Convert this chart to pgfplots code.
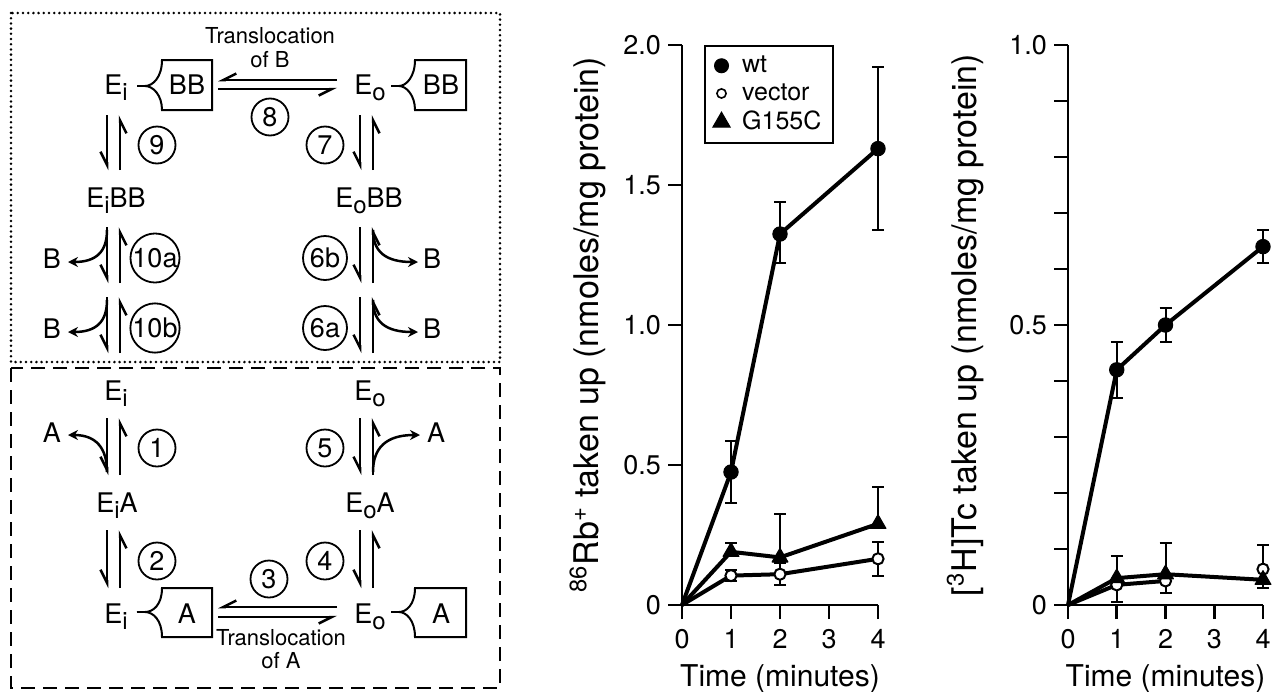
\documentclass[border=0pt]{standalone}
\usepackage{fontspec}
\setmainfont{TeX Gyre Heros}
\usepackage{pgfplots}
\usepackage{pgfplotstable}
\pgfplotsset{compat=1.18}
\usetikzlibrary{arrows.meta}

% 86Rb uptake
\pgfplotstableread{
x  y      ep     em
0  0      0      0
1  0.475  0.11   0.11
2  1.325  0.115  0.105
4  1.63   0.29   0.29
}\rbwt
\pgfplotstableread{
x  y      ep     em
0  0      0      0
1  0.105  0.02   0.02
2  0.11   0.04   0.04
4  0.165  0.06   0.06
}\rbvec
\pgfplotstableread{
x  y      ep     em
0  0      0      0
1  0.19   0.03   0
2  0.17   0.155  0
4  0.29   0.13   0
}\rbmut
% [3H]Tc uptake
\pgfplotstableread{
x  y      ep     em
0  0      0      0
1  0.42   0.05   0.05
2  0.50   0.03   0.03
4  0.64   0.03   0.03
}\tcwt
\pgfplotstableread{
x  y      ep     em
0  0      0      0
1  0.036  0      0.03
2  0.043  0      0.022
4  0.064  0      0.034
}\tcvec
\pgfplotstableread{
x  y      ep     em
0  0      0      0
1  0.048  0.04   0
2  0.055  0.055  0
4  0.045  0.062  0
}\tcmut

\newcommand{\sub}[1]{\raisebox{-3pt}{\fontsize{12}{13}\selectfont #1}}

\tikzset{
  eq/.style={line width=1.25pt, -{Straight Barb[harpoon,swap,length=6.5pt,width=6.5pt]}},
  rel/.style={line width=1.25pt, -{Stealth[length=5pt,width=5pt]}},
  num/.style={circle, draw, line width=0.9pt, minimum size=18.5pt, inner sep=0pt, font=\fontsize{13.5}{15}\selectfont},
  numw/.style={num, minimum size=22pt},
  lbl/.style={anchor=base, inner sep=0pt, font=\fontsize{13.5}{16}\selectfont},
  sm/.style={anchor=base, inner sep=0pt, font=\fontsize{11}{13}\selectfont},
  bx/.style={line width=1pt},
}

\pgfplotsset{
  panel/.style={
    scale only axis, height=280pt, anchor=south west,
    xmin=0, xmax=4, ymin=0,
    axis lines*=left, axis line style={line width=1.3pt, -},
    tick align=outside, major tick length=7pt, minor tick length=7pt,
    tick style={black, line width=1.3pt},
    xtick={0,1,2,3,4},
    ticklabel style={font=\fontsize{13.5}{15}\selectfont},
    xticklabel style={yshift=-1.5pt},
    /pgf/number format/assume math mode=true,
    xlabel={Time (minutes)},
    xlabel style={font=\fontsize{15}{18}\selectfont, at={(axis description cs:0.5,-0.132)}, anchor=center},
    ylabel style={font=\fontsize{17}{20}\selectfont, anchor=center},
    clip=false,
  },
  ebar/.style={only marks, mark=none, forget plot,
    error bars/y explicit,
    error bars/error bar style={black, line width=1pt},
    error bars/error mark options={black, rotate=90, mark size=3pt, line width=1pt}},
  swt/.style={black, line width=2pt, line join=round, mark=*, mark size=3.6pt,
    mark options={solid, fill=black, line width=0.5pt}, forget plot},
  svec/.style={black, line width=2pt, line join=round, mark=*, mark size=2.8pt,
    mark options={solid, fill=white, line width=1pt}, forget plot},
  smut/.style={black, line width=2pt, line join=round, mark=triangle*, mark size=4.6pt,
    mark options={solid, fill=black, line width=0.5pt}, forget plot},
}

\begin{document}
\begin{tikzpicture}
\useasboundingbox (0,0) rectangle (637pt,-345.5pt);

% ---------------- reaction scheme ----------------
\begin{scope}[x=0.5pt,y=-0.5pt]
\draw[line width=1.4pt, line cap=round, dash pattern=on 0pt off 2.6pt] (11,13) rectangle (500,362);
\draw[line width=1pt, dash pattern=on 7pt off 4pt] (11,368) rectangle (500,688);

% top row: Ei-BB <-> Eo-BB
\node[sm] at (270,43) {Translocation};
\node[sm] at (270,67) {of B};
\node[lbl] at (116,94) {E\sub{i}};
\draw[bx] (212,60) -- (162,60) .. controls (162,77) and (153,86) .. (145,86)
  .. controls (153,86) and (162,95) .. (162,110) -- (212,110) -- cycle;
\draw[bx] (137,86) -- (145,86);
\node[lbl] at (187,94) {BB};
\draw[eq] (337,80) -- (218,80);
\draw[eq] (218,89) -- (337,89);
\node[num] at (270,117) {8};
\node[lbl] at (370,94) {E\sub{o}};
\draw[bx] (466,60) -- (415,60) .. controls (415,77) and (406,86) .. (399,86)
  .. controls (406,86) and (415,95) .. (415,110) -- (466,110) -- cycle;
\draw[bx] (391,86) -- (399,86);
\node[lbl] at (441,94) {BB};

% 9 / 7
\draw[eq] (107,115) -- (107,170);
\draw[eq] (120,170) -- (120,115);
\node[num] at (157,145) {9};
\draw[eq] (360,115) -- (360,170);
\draw[eq] (373,170) -- (373,115);
\node[num] at (325,145) {7};

\node[lbl] at (116,207) {E\sub{i}BB};
\node[lbl] at (369,207) {E\sub{o}BB};

% 10a / 6b
\draw[eq] (107,227) -- (107,283);
\draw[eq] (120,283) -- (120,227);
\draw[rel] (107,230) .. controls (107,252) and (96,262) .. (68,262);
\node[lbl] at (52,268) {B};
\node[numw] at (155,258) {10a};
\draw[eq] (360,227) -- (360,283);
\draw[eq] (373,283) -- (373,227);
\draw[rel] (373,230) .. controls (373,252) and (386,262) .. (418,262);
\node[lbl] at (432,268) {B};
\node[numw] at (325,258) {6b};

% 10b / 6a
\draw[eq] (107,297) -- (107,353);
\draw[eq] (120,353) -- (120,297);
\draw[rel] (107,300) .. controls (107,322) and (96,332) .. (68,332);
\node[lbl] at (52,338) {B};
\node[numw] at (155,328) {10b};
\draw[eq] (360,297) -- (360,353);
\draw[eq] (373,353) -- (373,297);
\draw[rel] (373,300) .. controls (373,322) and (386,332) .. (418,332);
\node[lbl] at (432,338) {B};
\node[numw] at (325,328) {6a};

% dashed part
\node[lbl] at (116,400) {E\sub{i}};
\node[lbl] at (370,400) {E\sub{o}};
\draw[eq] (107,418) -- (107,475);
\draw[eq] (120,475) -- (120,418);
\draw[rel] (107,472) .. controls (107,448) and (96,435) .. (68,435);
\node[lbl] at (52,442) {A};
\node[num] at (157,448) {1};
\draw[eq] (360,418) -- (360,475);
\draw[eq] (373,475) -- (373,418);
\draw[rel] (373,472) .. controls (373,448) and (386,435) .. (420,435);
\node[lbl] at (436,442) {A};
\node[num] at (325,448) {5};

\node[lbl] at (117,512) {E\sub{i}A};
\node[lbl] at (370,512) {E\sub{o}A};
\draw[eq] (107,530) -- (107,588);
\draw[eq] (120,588) -- (120,530);
\node[num] at (157,561) {2};
\draw[eq] (360,530) -- (360,588);
\draw[eq] (373,588) -- (373,530);
\node[num] at (325,561) {4};
\node[num] at (269,579) {3};

\node[lbl] at (116,623) {E\sub{i}};
\draw[bx] (212,588) -- (162,588) .. controls (162,605) and (153,612) .. (145,612)
  .. controls (153,612) and (162,620) .. (162,637) -- (212,637) -- cycle;
\draw[bx] (137,612) -- (145,612);
\node[lbl] at (187,623) {A};
\draw[eq] (337,607) -- (218,607);
\draw[eq] (218,617) -- (337,617);
\node[lbl] at (370,623) {E\sub{o}};
\draw[bx] (466,588) -- (415,588) .. controls (415,605) and (406,612) .. (399,612)
  .. controls (406,612) and (415,620) .. (415,637) -- (466,637) -- cycle;
\draw[bx] (391,612) -- (399,612);
\node[lbl] at (441,623) {A};
\node[sm] at (281,645) {Translocation};
\node[sm] at (281,668) {of A};
\end{scope}

% ---------------- 86Rb uptake ----------------
\begin{axis}[panel, at={(341pt,-302.5pt)}, width=98pt, ymax=2,
  ytick={0,0.5,1,1.5,2}, yticklabels={0,0.5,1.0,1.5,2.0},
  ylabel={\textsuperscript{86}Rb\textsuperscript{+} taken up (nmoles/mg protein)},
  ylabel style={at={(axis description cs:-0.48,0.5)}},
  legend style={at={(axis description cs:0.112,1)}, anchor=north west, draw=black, line width=0.9pt,
    font=\fontsize{12.5}{14}\selectfont, inner xsep=4pt, inner ysep=3pt, row sep=0pt,
    /tikz/every odd column/.append style={column sep=4pt}},
  legend cell align=left,
  legend image code/.code={\draw[#1] plot coordinates {(0.3cm,0cm)};},
]
\addlegendimage{only marks, mark=*, mark size=3.5pt, fill=black, line width=0.5pt}
\addlegendimage{only marks, mark=*, mark size=2.3pt, fill=white, line width=0.8pt}
\addlegendimage{only marks, mark=triangle*, mark size=5pt, fill=black, line width=0.5pt}
\legend{wt, vector, G155C}
\addplot[ebar, error bars/y dir=both, skip coords between index={0}{1}] table[x=x, y=y, y error plus=ep, y error minus=em] {\rbwt};
\addplot[ebar, error bars/y dir=both, skip coords between index={0}{1}] table[x=x, y=y, y error plus=ep, y error minus=em] {\rbvec};
\addplot[ebar, error bars/y dir=plus, skip coords between index={0}{1}] table[x=x, y=y, y error plus=ep, y error minus=em] {\rbmut};
\addplot[svec, mark indices={2,3,4}] table[x=x, y=y] {\rbvec};
\addplot[smut, mark indices={2,3,4}] table[x=x, y=y] {\rbmut};
\addplot[swt, mark indices={2,3,4}] table[x=x, y=y] {\rbwt};
\end{axis}

% ---------------- [3H]Tc uptake ----------------
\begin{axis}[panel, at={(534pt,-302.5pt)}, width=97.5pt, ymax=1,
  ytick={0,0.5,1}, yticklabels={0,0.5,1.0},
  minor ytick={0.1,0.2,0.3,0.4,0.6,0.7,0.8,0.9},
  ylabel={[\textsuperscript{3}H]Tc taken up (nmoles/mg protein)},
  ylabel style={at={(axis description cs:-0.528,0.5)}},
]
\addplot[ebar, error bars/y dir=both, skip coords between index={0}{1}] table[x=x, y=y, y error plus=ep, y error minus=em] {\tcwt};
\addplot[ebar, error bars/y dir=minus, skip coords between index={0}{1}] table[x=x, y=y, y error plus=ep, y error minus=em] {\tcvec};
\addplot[ebar, error bars/y dir=plus, skip coords between index={0}{1}] table[x=x, y=y, y error plus=ep, y error minus=em] {\tcmut};
\addplot[svec, mark indices={2,3}, skip coords between index={3}{4}] table[x=x, y=y] {\tcvec};
\addplot[svec, only marks, skip coords between index={0}{3}] table[x=x, y=y] {\tcvec};
\addplot[smut, mark indices={2,3,4}] table[x=x, y=y] {\tcmut};
\addplot[swt, mark indices={2,3,4}] table[x=x, y=y] {\tcwt};
\end{axis}
\end{tikzpicture}
\end{document}
